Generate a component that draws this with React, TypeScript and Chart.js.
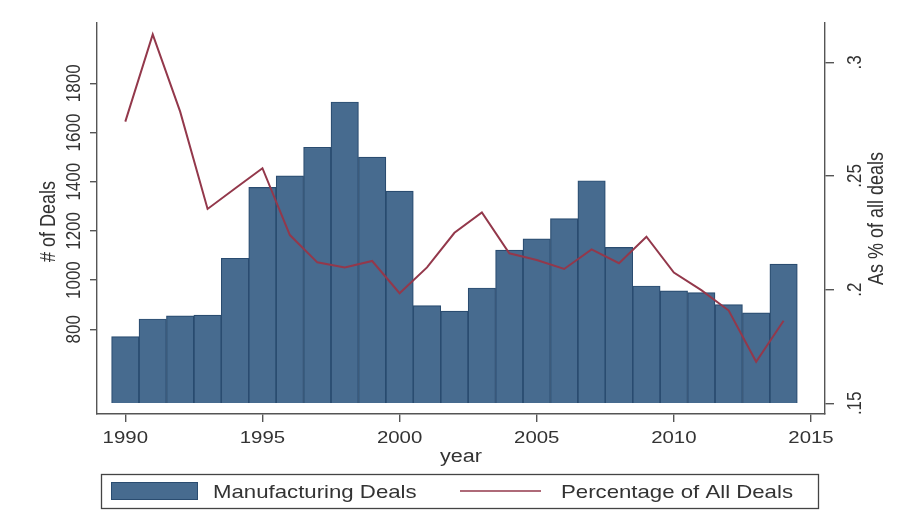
import React, { useEffect, useRef } from "react";
import { Chart, registerables } from "chart.js";

Chart.register(...registerables);

// ---- data ----
const years = [
  1990, 1991, 1992, 1993, 1994, 1995, 1996, 1997, 1998, 1999, 2000, 2001, 2002,
  2003, 2004, 2005, 2006, 2007, 2008, 2009, 2010, 2011, 2012, 2013, 2014,
];
const manufacturingDeals = [
  770, 842, 855, 858, 1089, 1377, 1424, 1540, 1724, 1500, 1362, 896, 874, 968,
  1122, 1168, 1250, 1404, 1133, 976, 956, 949, 900, 867, 1065,
];
const pctAllDeals = [
  0.2739, 0.3123, 0.2783, 0.2355, 0.2445, 0.2534, 0.224, 0.212, 0.2097, 0.2126,
  0.1984, 0.2098, 0.225, 0.234, 0.216, 0.213, 0.2091, 0.2177, 0.2116, 0.2233,
  0.2075, 0.1998, 0.1908, 0.1683, 0.1863,
];
const xTicks = [1990, 1995, 2000, 2005, 2010, 2015];
const leftTicks = [800, 1000, 1200, 1400, 1600, 1800];
const rightTicks = [0.15, 0.2, 0.25, 0.3];
const rightTickLabels = [".15", ".2", ".25", ".3"];
const seriesNames = ["Manufacturing Deals", "Percentage of All Deals"];
const xTitle = "year";
const leftTitle = "# of Deals";
const rightTitle = "As % of all deals";

// ---- styles ----
const BAR_FILL = "#476b8f";
const BAR_EDGE = "#2a4c70";
const LINE_COL = "#93384b";
const AXIS_COL = "#555555";
const TEXT_COL = "#333333";
const FONT = '"Liberation Sans", Arial, sans-serif';
const STRETCH = 1.2;

function drawText(
  ctx: CanvasRenderingContext2D,
  text: string,
  x: number,
  y: number,
  size: number,
  align: CanvasTextAlign,
  baseline: CanvasTextBaseline,
  rotate: boolean
) {
  ctx.save();
  ctx.translate(x, y);
  ctx.scale(STRETCH, 1);
  if (rotate) ctx.rotate(-Math.PI / 2);
  ctx.font = `${size}px ${FONT}`;
  ctx.textAlign = align;
  ctx.textBaseline = baseline;
  ctx.fillStyle = TEXT_COL;
  ctx.fillText(text, 0, 0);
  ctx.restore();
}

const textPlugin = {
  id: "stataText",
  beforeDraw(chart: any) {
    const ctx = chart.ctx;
    ctx.save();
    ctx.fillStyle = "#ffffff";
    ctx.fillRect(0, 0, chart.width, chart.height);
    ctx.restore();
  },
  afterDraw(chart: any) {
    const ctx: CanvasRenderingContext2D = chart.ctx;
    const sx = chart.scales.x;
    const sy = chart.scales.y;
    const sy2 = chart.scales.y2;
    const area = chart.chartArea;

    xTicks.forEach((v) => {
      drawText(ctx, String(v), sx.getPixelForValue(v), 443, 17, "center", "alphabetic", false);
    });
    leftTicks.forEach((v) => {
      drawText(ctx, String(v), 80.3, sy.getPixelForValue(v), 17, "center", "alphabetic", true);
    });
    rightTicks.forEach((v, i) => {
      drawText(ctx, rightTickLabels[i], 861, sy2.getPixelForValue(v), 17, "center", "alphabetic", true);
    });

    const midY = (area.top + area.bottom) / 2;
    drawText(ctx, xTitle, (area.left + area.right) / 2, 461.5, 18, "center", "alphabetic", false);
    drawText(ctx, leftTitle, 55, midY + 3, 18, "center", "alphabetic", true);
    drawText(ctx, rightTitle, 883, midY, 18, "center", "alphabetic", true);

    // legend
    ctx.save();
    ctx.strokeStyle = "#444444";
    ctx.lineWidth = 1.3;
    ctx.strokeRect(101.5, 474.5, 717, 34);
    ctx.fillStyle = BAR_FILL;
    ctx.fillRect(111, 482, 87, 18);
    ctx.strokeStyle = BAR_EDGE;
    ctx.lineWidth = 1;
    ctx.strokeRect(111.5, 482.5, 86, 17);
    ctx.strokeStyle = LINE_COL;
    ctx.lineWidth = 1.6;
    ctx.beginPath();
    ctx.moveTo(460, 491);
    ctx.lineTo(541, 491);
    ctx.stroke();
    ctx.restore();
    drawText(ctx, seriesNames[0], 213, 497.6, 18.5, "left", "alphabetic", false);
    drawText(ctx, seriesNames[1], 561, 497.6, 18.5, "left", "alphabetic", false);
  },
};

const axisGrid = (len: number) => ({
  display: true,
  drawOnChartArea: false,
  drawTicks: true,
  tickLength: len,
  color: AXIS_COL,
  lineWidth: 1.4,
  offset: false,
});
const axisBorder = { display: true, color: AXIS_COL, width: 1.4 };

export default function App() {
  const ref = useRef<HTMLCanvasElement | null>(null);

  useEffect(() => {
    if (!ref.current) return;
    const chart = new Chart(ref.current, {
      type: "bar",
      data: {
        datasets: [
          {
            type: "line",
            label: seriesNames[1],
            data: years.map((y, i) => ({ x: y, y: pctAllDeals[i] })),
            xAxisID: "x",
            yAxisID: "y2",
            borderColor: LINE_COL,
            borderWidth: 2,
            pointRadius: 0,
            tension: 0,
            fill: false,
            order: 1,
          } as any,
          {
            type: "bar",
            label: seriesNames[0],
            data: years.map((y, i) => ({ x: y, y: manufacturingDeals[i] })),
            xAxisID: "x",
            yAxisID: "y",
            base: 500,
            backgroundColor: BAR_FILL,
            borderColor: BAR_EDGE,
            borderWidth: 1.2,
            barPercentage: 1,
            categoryPercentage: 1,
            order: 2,
          } as any,
        ],
      },
      options: {
        responsive: false,
        animation: false,
        events: [],
        layout: { padding: { top: 23, left: 0, right: 0, bottom: 0 } },
        plugins: { legend: { display: false }, tooltip: { enabled: false } },
        scales: {
          x: {
            type: "linear",
            position: "bottom",
            min: 1988.968,
            max: 2015.51,
            offset: false,
            afterBuildTicks: (s: any) => {
              s.ticks = xTicks.map((v) => ({ value: v }));
            },
            afterFit: (s: any) => {
              s.height = 115;
            },
            ticks: { display: false },
            grid: axisGrid(8),
            border: axisBorder,
          },
          y: {
            type: "linear",
            position: "left",
            min: 455.7,
            max: 2045.1,
            afterBuildTicks: (s: any) => {
              s.ticks = leftTicks.map((v) => ({ value: v }));
            },
            afterFit: (s: any) => {
              s.width = 97;
            },
            ticks: { display: false },
            grid: axisGrid(7),
            border: axisBorder,
          },
          y2: {
            type: "linear",
            position: "right",
            min: 0.14529,
            max: 0.31729,
            afterBuildTicks: (s: any) => {
              s.ticks = rightTicks.map((v) => ({ value: v }));
            },
            afterFit: (s: any) => {
              s.width = 78;
            },
            ticks: { display: false },
            grid: axisGrid(9),
            border: axisBorder,
          },
        },
      } as any,
      plugins: [textPlugin],
    });
    return () => chart.destroy();
  }, []);

  return (
    <div style={{ position: "absolute", left: 0, top: 0, width: 903, height: 529, background: "#fff" }}>
      <canvas ref={ref} width={903} height={529} />
    </div>
  );
}
